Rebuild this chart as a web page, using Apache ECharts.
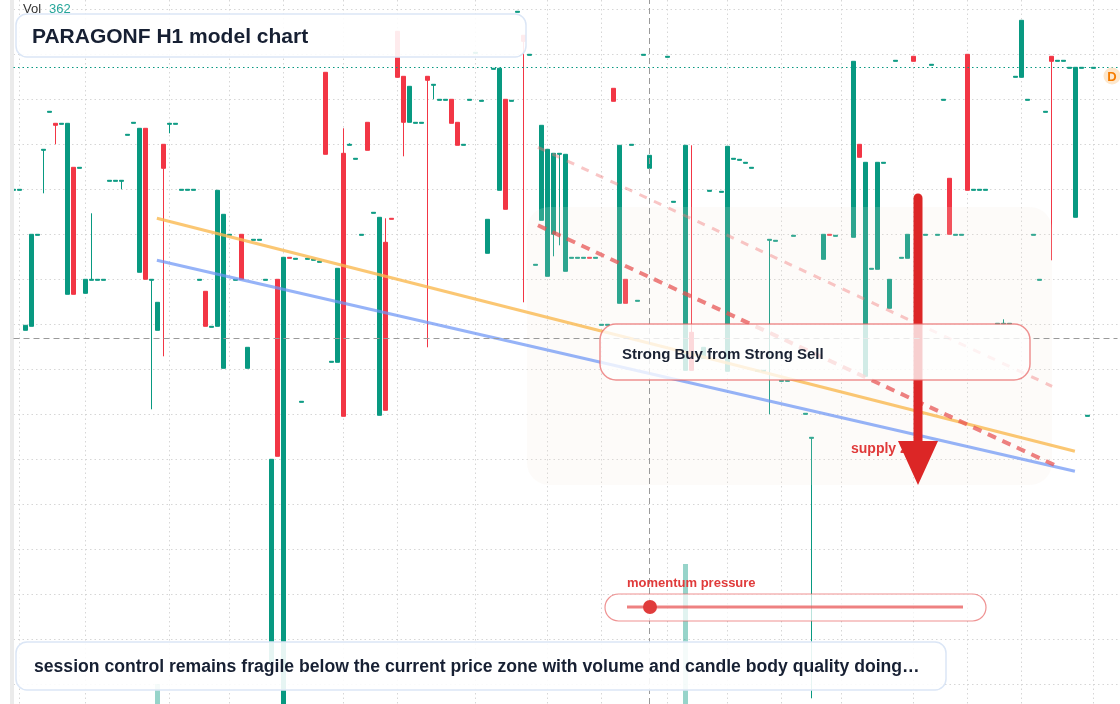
<!DOCTYPE html>
<html>
<head>
<meta charset="utf-8">
<title>PARAGONF H1 model chart</title>
<script src="https://cdn.jsdelivr.net/npm/echarts@6/dist/echarts.min.js"></script>
<style>
  html, body { margin: 0; padding: 0; background: #fff; }
  #chart { width: 1120px; height: 704px; }
</style>
</head>
<body>
<div id="chart"></div>
<script>
// hourly bars, one slot each (the last few are empty right offset)
const times = [];
for (let i = 0; i < 185; i++) {
  const d = Math.floor(i / 10) + 1, h = i % 10 + 8;
  times.push('D' + d + ' ' + (h < 10 ? '0' + h : h) + ':00');
}

// [open, close, low, high]; null = no bar
const candles = [
  [539,540,539,540],[539,540,539,540],[399,404,399,404],[403,495,403,495],[494,495,494,495],
  [579,580,536,580],[617,618,617,618],[606,604,585,606],[605,606,605,606],[435,606,435,606],
  // 10
  [562,435,435,562],[561,562,561,562],[436,450,436,450],[449,450,449,516],[449,450,449,450],
  [449,450,449,450],[548,549,548,549],[548,549,548,549],[548,549,540,549],[594,595,594,595],
  // 20
  [606,607,606,607],[457,601,457,601],[601,450,450,601],[449,450,320,450],[399,427,399,427],
  [585,561,373,585],[605,606,596,606],[605,606,605,606],[539,540,539,540],[539,540,539,540],
  // 30
  [539,540,539,540],[449,450,449,450],[438,403,403,438],[402,403,402,403],[403,539,403,539],
  [361,515,361,515],[494,495,494,495],[449,450,449,450],[495,450,450,495],[361,382,361,382],
  // 40
  [489,490,489,490],[489,490,489,490],[449,450,449,450],[66,270,66,270],[450,273,273,450],
  [20,472,20,472],[472,471,471,472],[470,471,470,471],[327,328,327,328],[470,471,470,471],
  // 50
  [469,470,469,470],[467,468,467,468],[657,575,575,657],[367,368,367,368],[367,461,367,461],
  [576,313,313,601],[584,585,584,586],[570,571,570,571],[494,495,494,495],[607,579,579,607],
  // 60
  [516,517,516,517],[314,512,314,512],[487,319,319,511],[511,510,510,511],[698,652,652,698],
  [653,607,573,653],[607,643,607,643],[606,607,606,607],[606,607,606,607],[653,649,382,653],
  // 70
  [644,645,630,645],[629,630,629,630],[629,630,629,630],[630,606,606,630],[607,584,584,607],
  [584,585,584,585],[629,630,629,630],[676,677,676,677],[628,629,628,629],[476,510,476,510],
  // 80
  [660,661,660,661],[539,661,539,661],[630,520,520,630],[628,629,628,629],[717,718,717,718],
  [694,688,427,694],[674,675,674,675],[464,465,464,465],[509,604,509,604],[453,580,453,580],
  // 90
  [495,576,473,576],[575,576,484,576],[458,575,458,575],[471,472,471,472],[471,472,471,472],
  [471,472,471,472],[472,471,471,472],[471,472,471,472],[404,405,404,405],[404,405,404,405],
  // 100
  [641,628,628,641],[426,584,426,584],[450,426,426,450],[584,585,584,585],[428,429,428,429],
  [674,675,674,675],[561,574,561,574],null,null,[672,673,672,673],
  // 110
  [527,528,527,528],null,[359,584,359,584],[397,359,359,584],null,
  [371,382,371,382],[538,539,538,539],null,[537,538,537,538],[358,583,358,583],
  // 120
  [570,571,570,571],[569,570,569,570],[566,567,566,567],[561,562,561,562],[358,359,358,359],
  [358,359,358,359],[489,490,315,490],[488,489,488,489],[348,349,348,349],[348,349,348,349],
  // 130
  [493,494,493,494],null,[315,316,315,316],[291,292,31,292],null,
  [470,495,470,495],[495,494,494,495],[493,494,493,494],null,null,
  // 140
  [492,668,492,668],[585,572,572,585],[353,567,353,567],[460,461,460,461],[460,567,460,567],
  [566,567,566,567],[421,450,421,450],[668,669,668,669],[471,472,471,472],[471,495,471,495],
  // 150
  [673,668,668,673],null,[494,495,494,495],[664,665,664,665],[494,495,494,495],
  [629,630,629,630],[551,495,495,551],[494,495,494,495],[494,495,494,495],[675,539,539,675],
  // 160
  [539,540,539,540],[539,540,539,540],[539,540,539,540],null,[405,406,405,406],
  [405,406,405,410],[405,406,405,406],[652,653,652,653],[652,709,652,709],[629,630,629,630],
  // 170
  [494,495,494,495],[449,450,449,450],[617,618,617,618],[673,668,469,673],[668,669,668,669],
  [668,669,668,669],[661,662,661,662],[512,662,512,662],[661,662,661,662],[313,314,313,314],
  // 180
  [661,662,661,662],null,null,null,null
];

// volume: [bar index, volume]
const volumeBars = [[24, 60], [112, 420]];

// session breaks (vertical grid lines)
const dayBreaks = [1, 12, 26, 36, 45, 55, 64, 77, 89, 98, 109, 119, 128, 138, 150, 159, 168, 180];

const lastPrice = 662;
const crossPrice = 391.3;
const crossIndex = 106;

// drawn trend lines: [bar index, price]
const upperTrend = [[23.9, 511], [176.9, 278]];
const lowerTrend = [[23.9, 469], [176.9, 258]];
const supplyLine = [[87.4, 504], [173.6, 264]];
const supplyFaint = [[87.4, 582], [173.1, 343]];

const UP = '#089981';
const DOWN = '#f23645';
const FONT = '"Liberation Sans", Arial, sans-serif';
const gridDots = { color: '#d6d6d6', width: 1, type: [1.5, 3] };

const chart = echarts.init(document.getElementById('chart'));

const option = {
  animation: false,
  grid: [
    { left: 13.5, right: 2.5, top: 9.3, bottom: 19.7 },
    { left: 13.5, right: 2.5, top: 0, bottom: 0 }
  ],
  xAxis: [
    {
      type: 'category', gridIndex: 0, data: times, boundaryGap: false,
      axisLine: { show: false }, axisTick: { show: false }, axisLabel: { show: false },
      splitLine: { show: false }
    },
    { type: 'value', gridIndex: 0, min: 0, max: 184, show: false },
    {
      type: 'category', gridIndex: 1, data: times, boundaryGap: false,
      axisLine: { show: false }, axisTick: { show: false }, axisLabel: { show: false },
      splitLine: {
        show: true,
        interval: (idx) => dayBreaks.indexOf(idx) >= 0,
        lineStyle: gridDots
      }
    }
  ],
  yAxis: [
    {
      type: 'value', gridIndex: 0, min: 45, max: 720, interval: 45,
      axisLine: { show: false }, axisTick: { show: false }, axisLabel: { show: false },
      splitLine: { show: true, lineStyle: gridDots }
    },
    {
      type: 'value', gridIndex: 1, min: 0, max: 2112, show: false,
      splitLine: { show: false }
    }
  ],
  series: [
    {
      name: 'PARAGONF',
      type: 'candlestick',
      xAxisIndex: 0,
      yAxisIndex: 0,
      barWidth: 5,
      clip: false,
      z: 2,
      itemStyle: {
        color: UP, color0: DOWN,
        borderColor: UP, borderColor0: DOWN,
        borderWidth: 1
      },
      data: candles.map((c) => c || ['-', '-', '-', '-']),
      markLine: {
        silent: true,
        symbol: 'none',
        label: { show: false },
        data: [
          { yAxis: lastPrice, lineStyle: { color: UP, width: 1.2, type: [1.5, 3] } },
          { yAxis: crossPrice, lineStyle: { color: '#9a9a9a', width: 1, type: [6, 4] } }
        ]
      }
    },
    {
      name: 'Vol',
      type: 'bar',
      xAxisIndex: 2,
      yAxisIndex: 1,
      barWidth: 5,
      z: 3,
      itemStyle: { color: 'rgba(8,153,129,0.42)' },
      data: volumeBars,
      markLine: {
        silent: true,
        symbol: 'none',
        label: { show: false },
        data: [{ xAxis: crossIndex }],
        lineStyle: { color: '#9a9a9a', width: 1, type: [6, 4] }
      }
    },
    {
      type: 'line', xAxisIndex: 1, yAxisIndex: 0, z: 4, symbol: 'none', silent: true,
      lineStyle: { color: 'rgba(250,185,80,0.8)', width: 3 },
      data: upperTrend
    },
    {
      type: 'line', xAxisIndex: 1, yAxisIndex: 0, z: 4, symbol: 'none', silent: true,
      lineStyle: { color: 'rgba(110,150,245,0.72)', width: 3 },
      data: lowerTrend
    },
    {
      type: 'line', xAxisIndex: 1, yAxisIndex: 0, z: 4, symbol: 'none', silent: true,
      lineStyle: { color: 'rgba(232,80,80,0.72)', width: 4, type: [9, 7] },
      data: supplyLine
    },
    {
      type: 'line', xAxisIndex: 1, yAxisIndex: 0, z: 4, symbol: 'none', silent: true,
      lineStyle: { color: 'rgba(240,120,120,0.42)', width: 3, type: [8, 8] },
      data: supplyFaint
    }
  ],
  graphic: {
    elements: [
      // left scale edge, drawn over the first bar
      { type: 'rect', shape: { x: 10, y: 0, width: 4, height: 704 }, style: { fill: '#ebebeb' }, z: 3, silent: true },
      // zone shading
      { type: 'rect', shape: { x: 527, y: 207, width: 525, height: 278, r: 22 },
        style: { fill: 'rgba(244,230,216,0.16)' }, z: 3, silent: true },
      // supply label under the arrow
      { type: 'text', x: 851, y: 449, z: 4, silent: true,
        style: { text: 'supply zone', fill: '#e03a3a', font: 'bold 14px ' + FONT, verticalAlign: 'middle' } },
      // red arrow
      { type: 'line', shape: { x1: 918, y1: 198, x2: 918, y2: 446 }, z: 5, silent: true,
        style: { stroke: '#dc2626', lineWidth: 9, lineCap: 'round' } },
      { type: 'polygon', shape: { points: [[898, 441], [938, 441], [918, 485]] }, z: 5, silent: true,
        style: { fill: '#dc2626' } },
      // signal box
      { type: 'rect', shape: { x: 600, y: 324, width: 430, height: 56, r: 16 }, z: 6, silent: true,
        style: { fill: 'rgba(255,255,255,0.78)', stroke: 'rgba(232,100,100,0.7)', lineWidth: 1.5 } },
      { type: 'text', x: 622, y: 355, z: 7, silent: true,
        style: { text: 'Strong Buy from Strong Sell', fill: '#1a2233', font: 'bold 15px ' + FONT, verticalAlign: 'middle' } },
      // title box
      { type: 'rect', shape: { x: 16, y: 14, width: 510, height: 43, r: 11 }, z: 6, silent: true,
        style: { fill: 'rgba(255,255,255,0.9)', stroke: '#dbe6f6', lineWidth: 1.5 } },
      { type: 'text', x: 32, y: 37, z: 7, silent: true,
        style: { text: 'PARAGONF H1 model chart', fill: '#172033', font: 'bold 21px ' + FONT, verticalAlign: 'middle' } },
      // footer note
      { type: 'rect', shape: { x: 16, y: 642, width: 930, height: 48, r: 11 }, z: 6, silent: true,
        style: { fill: 'rgba(255,255,255,0.9)', stroke: '#dbe6f6', lineWidth: 1.5 } },
      { type: 'text', x: 34, y: 667, z: 7, silent: true,
        style: { text: 'session control remains fragile below the current price zone with volume and candle body quality doing\u2026',
          fill: '#172033', font: 'bold 17.6px ' + FONT, verticalAlign: 'middle' } },
      // momentum gauge
      { type: 'text', x: 627, y: 583, z: 7, silent: true,
        style: { text: 'momentum pressure', fill: '#e03a3a', font: 'bold 13px ' + FONT, verticalAlign: 'middle' } },
      { type: 'rect', shape: { x: 605, y: 594, width: 381, height: 27, r: 13.5 }, z: 6, silent: true,
        style: { fill: 'rgba(255,255,255,0.72)', stroke: 'rgba(232,100,100,0.7)', lineWidth: 1.2 } },
      { type: 'line', shape: { x1: 627, y1: 607, x2: 963, y2: 607 }, z: 7, silent: true,
        style: { stroke: 'rgba(232,80,80,0.72)', lineWidth: 3 } },
      { type: 'circle', shape: { cx: 650, cy: 607, r: 7 }, z: 7, silent: true,
        style: { fill: '#e03c3c' } },
      // volume legend
      { type: 'text', x: 23, y: 9, z: 7, silent: true,
        style: { text: 'Vol', fill: '#333333', font: '13px ' + FONT, verticalAlign: 'middle' } },
      { type: 'text', x: 49, y: 9, z: 7, silent: true,
        style: { text: '362', fill: '#26a69a', font: '13px ' + FONT, verticalAlign: 'middle' } },
      // D badge
      { type: 'circle', shape: { cx: 1112, cy: 76, r: 8.5 }, z: 7, silent: true,
        style: { fill: '#fde7cc' } },
      { type: 'text', x: 1112, y: 77, z: 8, silent: true,
        style: { text: 'D', fill: '#f57c00', font: 'bold 13px ' + FONT, align: 'center', verticalAlign: 'middle' } }
    ]
  }
};

chart.setOption(option);
</script>
</body>
</html>
